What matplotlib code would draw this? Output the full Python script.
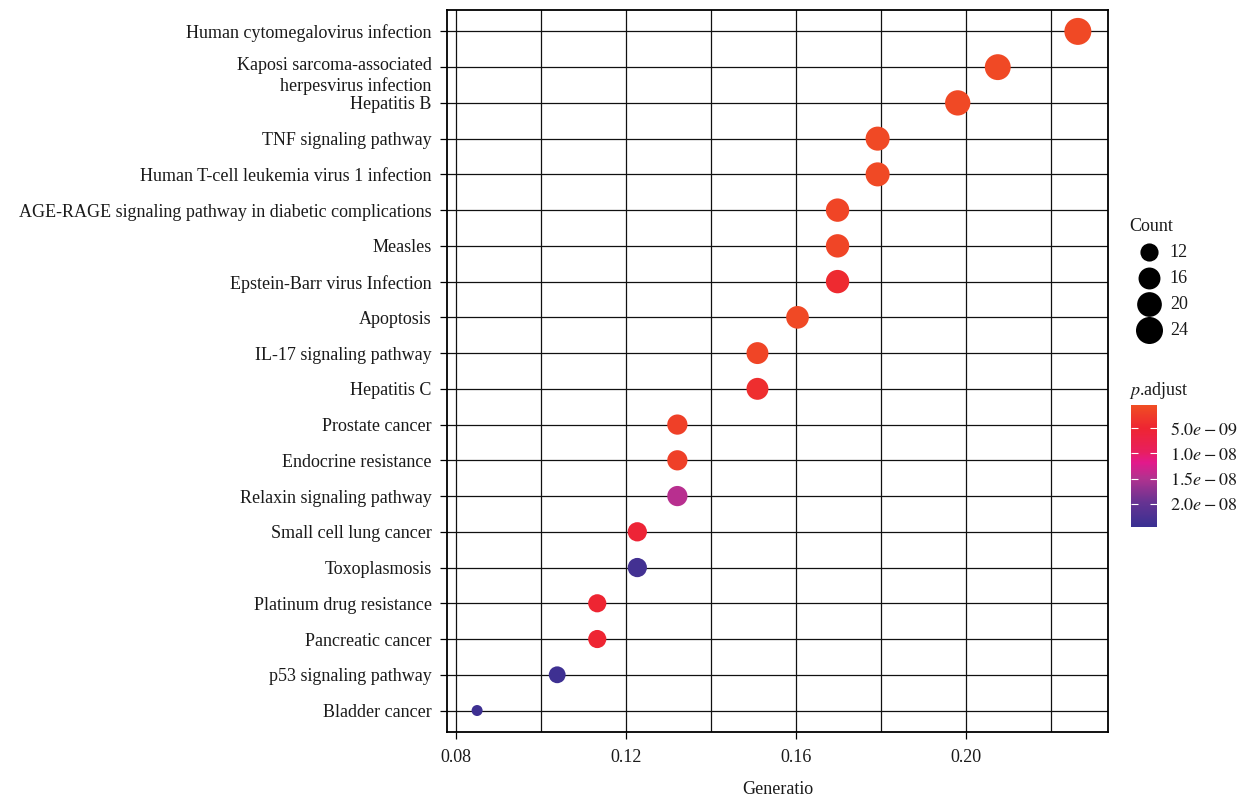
import matplotlib
matplotlib.use("Agg")
import matplotlib.pyplot as plt
import numpy as np
from matplotlib.colors import LinearSegmentedColormap, Normalize
from matplotlib.ticker import FixedLocator
from matplotlib.transforms import ScaledTranslation

plt.rcParams['font.family'] = ['Liberation Serif', 'DejaVu Serif']
plt.rcParams['mathtext.fontset'] = 'stix'

pathways = [
    'Human cytomegalovirus infection',
    'Kaposi sarcoma-associated\nherpesvirus infection',
    'Hepatitis B',
    'TNF signaling pathway',
    'Human T-cell leukemia virus 1 infection',
    'AGE-RAGE signaling pathway in diabetic complications',
    'Measles',
    'Epstein-Barr virus Infection',
    'Apoptosis',
    'IL-17 signaling pathway',
    'Hepatitis C',
    'Prostate cancer',
    'Endocrine resistance',
    'Relaxin signaling pathway',
    'Small cell lung cancer',
    'Toxoplasmosis',
    'Platinum drug resistance',
    'Pancreatic cancer',
    'p53 signaling pathway',
    'Bladder cancer',
]
counts = [24, 22, 21, 19, 19, 18, 18, 18, 17, 16,
          16, 14, 14, 14, 13, 13, 12, 12, 11, 9]
gene_total = 106
gene_ratio = [c / gene_total for c in counts]
p_adjust = [1.0e-9, 1.0e-9, 1.0e-9, 1.0e-9, 1.0e-9, 1.5e-9, 1.5e-9, 4.5e-9, 1.0e-9, 1.5e-9,
            4.0e-9, 2.0e-9, 2.0e-9, 1.45e-8, 5.5e-9, 2.35e-8, 5.0e-9, 5.0e-9, 2.4e-8, 2.4e-8]

size_breaks = [12, 16, 20, 24]
cbar_ticks = [5e-9, 1e-8, 1.5e-8, 2e-8]
cbar_labels = [r'$5.0e-09$', r'$1.0e-08$', r'$1.5e-08$', r'$2.0e-08$']

FS = 13
TXT = '#1a1a1a'

# red -> magenta -> blue, low p.adjust is red
cmap = LinearSegmentedColormap.from_list('padj', [
    (0.0, '#F04E23'), (0.19, '#EE2532'), (0.38, '#E81F5E'),
    (0.47, '#E3198B'), (0.6, '#B2328F'), (0.8, '#663392'), (1.0, '#393092')])
norm = Normalize(vmin=4e-10, vmax=2.46e-8)

cmin, cmax = min(counts), max(counts)
def marker_area(c):
    # area scale: diameter grows with sqrt of rescaled count
    d_px = 11 + 16 * np.sqrt((np.asarray(c, float) - cmin) / (cmax - cmin))
    return (d_px * 0.72) ** 2

fig = plt.figure(figsize=(12.46, 7.97), dpi=100)
ax = fig.add_axes([0.3587, 0.0816, 0.5305, 0.9059])

n = len(pathways)
ypos = np.arange(n)[::-1]
ax.scatter(gene_ratio, ypos, s=marker_area(counts), c=p_adjust, cmap=cmap, norm=norm,
           linewidths=0, zorder=3)

ax.set_xlim(0.0778, 0.2335)
ax.set_ylim(-0.6, n - 0.4)
ax.xaxis.set_major_locator(FixedLocator([0.08, 0.12, 0.16, 0.20]))
ax.xaxis.set_minor_locator(FixedLocator([0.10, 0.14, 0.18, 0.22]))
ax.set_xticklabels(['0.08', '0.12', '0.16', '0.20'])
ax.set_yticks(ypos)
ax.set_yticklabels(pathways)
ax.grid(True, which='both', axis='x', color='#111111', lw=0.9, zorder=0)
ax.grid(True, which='major', axis='y', color='#111111', lw=0.9, zorder=0)
ax.set_axisbelow(True)
for sp in ax.spines.values():
    sp.set_color('black')
    sp.set_linewidth(1.3)
ax.tick_params(axis='y', which='major', length=5, width=0.9, labelsize=FS, pad=6,
               color='black', labelcolor=TXT)
ax.tick_params(axis='x', which='major', length=5, width=0.9, labelsize=FS, pad=7,
               color='black', labelcolor=TXT)
ax.tick_params(axis='x', which='minor', length=0)
ax.set_xlabel('Generatio', fontsize=FS, labelpad=11, color=TXT)

# two-line label hangs from its tick instead of centering on it
lab = ax.get_yticklabels()[1]
lab.set_verticalalignment('top')
lab.set_linespacing(1.2)
lab.set_transform(lab.get_transform() + ScaledTranslation(0, 7.0 / 72, fig.dpi_scale_trans))

# size legend
handles = [ax.scatter([], [], s=marker_area(b), c='black', linewidths=0) for b in size_breaks]
leg = fig.legend(handles, [str(b) for b in size_breaks], title='Count', frameon=False,
                 loc='upper left', bbox_to_anchor=(0.899, 0.738), fontsize=FS,
                 title_fontsize=FS, handletextpad=0.05, labelspacing=0.5,
                 borderpad=0, handlelength=2.2)
leg._legend_box.align = 'left'
for t in leg.get_texts():
    t.set_color(TXT)
leg.get_title().set_color(TXT)

# colour bar
cax = fig.add_axes([0.9077, 0.3388, 0.0209, 0.1531])
sm = plt.cm.ScalarMappable(cmap=cmap, norm=norm)
cb = fig.colorbar(sm, cax=cax, ticks=cbar_ticks)
cb.ax.invert_yaxis()
cb.ax.set_yticklabels(cbar_labels)
cb.outline.set_visible(False)
cb.ax.tick_params(direction='in', length=5, width=0.8, color='white', labelsize=FS,
                  left=True, right=True, pad=9, labelcolor=TXT)
cax.set_title(r'$p$.adjust', fontsize=FS, loc='left', pad=7, x=-0.08, color=TXT)

fig.savefig('out.png', dpi=100)
